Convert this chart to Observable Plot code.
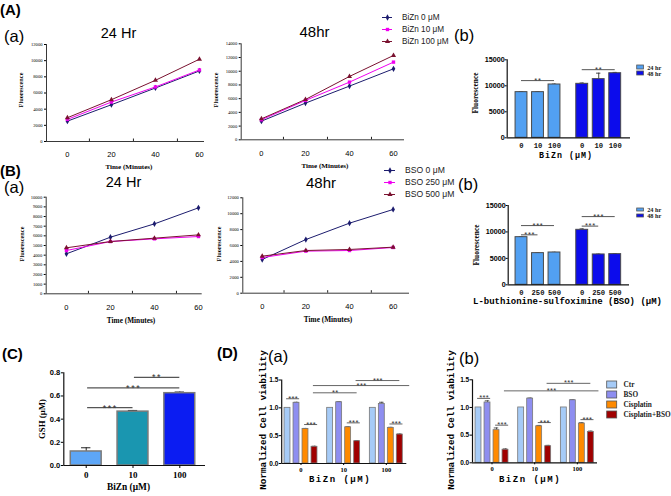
<!DOCTYPE html>
<html><head><meta charset="utf-8">
<script src="https://cdn.jsdelivr.net/npm/d3@7"></script>
<script src="https://cdn.jsdelivr.net/npm/@observablehq/plot@0.6"></script>
<style>
body{margin:0;background:#fff}
#fig{position:relative;width:671px;height:496px;overflow:hidden;background:#fff}
#fig svg{position:absolute;left:0;top:0}
</style></head><body><div id="fig"></div>
<script>
// ================= DATA =================
const timePoints = [0, 20, 40, 60];
const timeMinorTicks = [10, 30, 50];
const biznLineSeries = ["BiZn 0 μM", "BiZn 10 μM", "BiZn 100 μM"];
const bsoLineSeries = ["BSO 0 μM", "BSO 250 μM", "BSO 500 μM"];
const A24_bizn0 = [2520, 4550, 6620, 8730];
const A24_bizn10 = [2730, 4880, 6750, 8850];
const A24_bizn100 = [2940, 5170, 7570, 10180];
const A48_bizn0 = [2720, 5350, 7830, 10350];
const A48_bizn10 = [2920, 5740, 8410, 11330];
const A48_bizn100 = [3060, 5880, 9240, 12300];
const B24_bso0 = [4140, 5860, 7240, 8900];
const B24_bso250 = [4480, 5410, 5690, 5930];
const B24_bso500 = [4760, 5410, 5760, 6100];
const B48_bso0 = [4240, 6750, 8810, 10530];
const B48_bso250 = [4490, 5290, 5370, 5750];
const B48_bso500 = [4660, 5370, 5500, 5790];
const lineTicksA24 = [0, 2000, 4000, 6000, 8000, 10000, 12000];
const lineTicksA48 = [0, 2000, 4000, 6000, 8000, 10000, 12000, 14000];
const lineTicksB24 = [0, 1000, 2000, 3000, 4000, 5000, 6000, 7000, 8000, 9000, 10000];
const lineTicksB48 = [0, 2000, 4000, 6000, 8000, 10000, 12000];

const timeGroups = ["24 hr", "48 hr"];
const biznConc = ["0", "10", "100"];
const bsoConc = ["0", "250", "500"];
const fluorTicks = [0, 5000, 10000, 15000];
const Ab_24 = [8780, 8780, 10250], Ab_24_err = [60, 60, 80];
const Ab_48 = [10380, 11280, 12420], Ab_48_err = [150, 1150, 150];
const Bb_24 = [9010, 5990, 6110], Bb_24_err = [60, 40, 40];
const Bb_48 = [10400, 5740, 5800], Bb_48_err = [170, 60, 80];
const Ab_sig = [{g: 0, a: 0, b: 2, y: 11000, label: "**"}, {g: 1, a: 0, b: 2, y: 13100, label: "**"}];
const Bb_sig = [
  {g: 0, a: 0, b: 1, y: 9450, label: "***"}, {g: 0, a: 0, b: 2, y: 11200, label: "***"},
  {g: 1, a: 0, b: 1, y: 11100, label: "***"}, {g: 1, a: 0, b: 2, y: 12900, label: "***"}];

const gsh = [0.121, 0.465, 0.624], gsh_err = [0.032, 0.01, 0.01];
const gshTicks = [0, 0.2, 0.4, 0.6, 0.8];
const gsh_sig = [{a: 0, b: 1, y: 0.50, label: "***"}, {a: 0, b: 2, y: 0.67, label: "***"}, {a: 1, b: 2, y: 0.76, label: "**"}];

const dGroups = ["0", "10", "100"];
const dSeries = ["Ctr", "BSO", "Cisplatin", "Cisplatin+BSO"];
const viabTicks = [0, 0.5, 1.0, 1.5];
const Da_ctr = [1, 1, 1], Da_ctr_err = [0, 0, 0];
const Da_bso = [1.09, 1.10, 1.07], Da_bso_err = [0.01, 0.01, 0.03];
const Da_cis = [0.62, 0.65, 0.64], Da_cis_err = [0.01, 0.01, 0.01];
const Da_cisbso = [0.30, 0.40, 0.52], Da_cisbso_err = [0.01, 0.01, 0.01];
const Db_ctr = [1, 1, 1], Db_ctr_err = [0, 0, 0];
const Db_bso = [1.09, 1.16, 1.13], Db_bso_err = [0.03, 0.01, 0.01];
const Db_cis = [0.59, 0.66, 0.71], Db_cis_err = [0.04, 0.015, 0.015];
const Db_cisbso = [0.236, 0.30, 0.558], Db_cisbso_err = [0.015, 0.015, 0.015];
const Da_sigShort = [{g: 0, a: 0, b: 1, y: 1.163, label: "***"}, {g: 0, a: 2, b: 3, y: 0.70, label: "***"},
  {g: 1, a: 2, b: 3, y: 0.73, label: "***"}, {g: 2, a: 2, b: 3, y: 0.71, label: "***"}];
const Da_sigLong = [{g1: 0, s1: 3, g2: 1, s2: 3, y: 1.27, label: "**", ext: 0},
  {g1: 0, s1: 3, g2: 2, s2: 3, y: 1.40, label: "***", ext: 1.1},
  {g1: 1, s1: 3, g2: 2, s2: 3, y: 1.49, label: "***", ext: 0}];
const Db_sigShort = [{g: 0, a: 0, b: 1, y: 1.164, label: "***"}, {g: 0, a: 2, b: 3, y: 0.68, label: "***"},
  {g: 1, a: 2, b: 3, y: 0.727, label: "***"}, {g: 2, a: 2, b: 3, y: 0.78, label: "***"}];
const Db_sigLong = [{g1: 0, s1: 3, g2: 2, s2: 3, y: 1.30, label: "***", ext: 0.9},
  {g1: 1, s1: 3, g2: 2, s2: 3, y: 1.436, label: "***", ext: 0}];

// ================= STYLE / LAYOUT =================
const W = 671, H = 496;
const SANS = "'Liberation Sans', Arial, sans-serif";
const SERIF = "'Liberation Serif', 'Times New Roman', serif";
const MONO = "'Liberation Mono', 'DejaVu Sans Mono', monospace";
const LINE_COLORS = ["#1C1C6E", "#F000F0", "#7A1230"];
const LINE_SYMBOLS = ["diamond", "square", "triangle"];
const TIME_COLORS = ["#52A0F2", "#0C0CEC"];
const GSH_COLORS = ["#5DA6F7", "#1A96B0", "#0B1CF2"];
const D_COLORS = ["#A6CBF7", "#8E8EF0", "#FF8A00", "#A00000"];
const AB_GROUP_STEP = 3.68, D_GROUP_STEP = 4.74;

const LAY = {
  A24: {left: 46, right: 204, top: 44, bottom: 141, xmin: -9.5, xmax: 62.3},
  A48: {left: 240.7, right: 404, top: 43.3, bottom: 139.3, xmin: -9.2, xmax: 65},
  B24: {left: 45.7, right: 201.7, top: 196.7, bottom: 293.3, xmin: -9.2, xmax: 61.7},
  B48: {left: 242.3, right: 409, top: 197.3, bottom: 292.7, xmin: -8.9, xmax: 67.5},
  Ab: {left: 506.7, right: 630, top: 59.3, bottom: 137.3, xmin: -0.867, xmax: 6.606},
  Bb: {left: 507.7, right: 629, top: 205, bottom: 284.3, xmin: -0.806, xmax: 6.546},
  C: {left: 63.3, right: 205, top: 372.3, bottom: 465, xmin: -0.479, xmax: 2.549},
  Da: {left: 281.2, right: 406.3, top: 379.5, bottom: 463, xmin: -0.644, xmax: 13.256},
  Db: {left: 472, right: 597, top: 379.3, bottom: 462.3, xmin: -0.667, xmax: 13.22}
};

const fig = document.getElementById("fig");
function add(f, opts) {
  const svg = Plot.plot(Object.assign({
    width: W, height: H,
    marginLeft: f.left, marginRight: W - f.right, marginTop: f.top, marginBottom: H - f.bottom,
    style: {background: "transparent", overflow: "visible"}
  }, opts));
  svg.style.position = "absolute"; svg.style.left = "0px"; svg.style.top = "0px";
  d3.select(svg).selectAll("text").filter(function () { return /^\*+$/.test(this.textContent); })
    .attr("letter-spacing", opts.starSpacing || 0.5);
  fig.appendChild(svg);
  return svg;
}
function bandFrame(left, right, c0, step, n, bw) {
  const p = 1 - bw / step, start = c0 - step * (1 + p) / 2;
  return {left, right, top: start, bottom: start + step * (n + p), pad: p};
}

// ================= LINE CHARTS =================
function lineChart(f, names, series, ticks) {
  const rows = [];
  names.forEach((n, k) => timePoints.forEach((t, i) => rows.push({series: n, t, v: series[k][i]})));
  const yMax = ticks[ticks.length - 1];
  add(f, {
    x: {domain: [f.xmin, f.xmax], axis: null},
    y: {domain: [0, yMax], axis: null},
    color: {domain: names, range: LINE_COLORS},
    symbol: {domain: names, range: LINE_SYMBOLS},
    marks: [
      Plot.ruleY([0], {stroke: "#222", strokeWidth: 0.9}),
      Plot.ruleX([f.xmin], {stroke: "#222", strokeWidth: 0.9}),
      Plot.ruleX(timeMinorTicks, {y1: 0, y2: 0, insetTop: -2.5, stroke: "#222"}),
      Plot.axisY(ticks, {anchor: "left", tickSize: 2, tickPadding: 2, fontSize: 4.6, fontFamily: SERIF, tickFormat: d => String(d), label: null}),
      Plot.axisX(timePoints, {anchor: "bottom", tickSize: 0, tickPadding: 10.5, fontSize: 7.5, fontFamily: SANS, tickFormat: d => String(d), label: null}),
      Plot.line(rows, {x: "t", y: "v", z: "series", stroke: "series", strokeWidth: 1}),
      Plot.dot(rows, {x: "t", y: "v", fill: "series", symbol: "series", r: 1.9})
    ]
  });
}
function lineLegend(f, names, fontSize) {
  const rows = names.map(n => ({n}));
  add(f, {
    x: {domain: [0, 1], axis: null},
    y: {type: "point", domain: names, padding: 0, axis: null},
    color: {domain: names, range: LINE_COLORS},
    symbol: {domain: names, range: LINE_SYMBOLS},
    marks: [
      Plot.ruleY(rows, {y: "n", x1: 0, x2: 1, stroke: "n", strokeWidth: 1}),
      Plot.dot(rows, {x: 0.5, y: "n", fill: "n", symbol: "n", r: 1.9}),
      Plot.text(rows, {x: 1, y: "n", text: "n", dx: 9.5, textAnchor: "start", fontSize, fontFamily: SANS, fill: "#222"})
    ]
  });
}
lineChart(LAY.A24, biznLineSeries, [A24_bizn0, A24_bizn10, A24_bizn100], lineTicksA24);
lineChart(LAY.A48, biznLineSeries, [A48_bizn0, A48_bizn10, A48_bizn100], lineTicksA48);
lineChart(LAY.B24, bsoLineSeries, [B24_bso0, B24_bso250, B24_bso500], lineTicksB24);
lineChart(LAY.B48, bsoLineSeries, [B48_bso0, B48_bso250, B48_bso500], lineTicksB48);
lineLegend({left: 382, right: 392, top: 15.7, bottom: 41.7}, biznLineSeries, 8.2);
lineLegend({left: 384, right: 395, top: 168.8, bottom: 194.5}, bsoLineSeries, 8.6);

// ================= FLUORESCENCE BAR CHARTS =================
function timeBarChart(f, concs, vals, errs, sigs) {
  const rows = [];
  timeGroups.forEach((s, g) => concs.forEach((c, i) =>
    rows.push({series: s, label: c, pos: g * AB_GROUP_STEP + i, v: vals[g][i], e: errs[g][i]})));
  const sigRows = sigs.map(s => ({x1: s.g * AB_GROUP_STEP + s.a, x2: s.g * AB_GROUP_STEP + s.b, y: s.y, label: s.label}));
  add(f, {
    x: {domain: [f.xmin, f.xmax], axis: null},
    y: {domain: [0, fluorTicks[fluorTicks.length - 1]], axis: null},
    color: {domain: timeGroups, range: TIME_COLORS},
    starSpacing: 0.8,
    marks: [
      Plot.ruleX(rows, {x: "pos", y1: "v", y2: d => d.v + d.e, stroke: "#333", strokeWidth: 0.9}),
      Plot.ruleY(rows, {y: d => d.v + d.e, x1: d => d.pos - 0.13, x2: d => d.pos + 0.13, stroke: "#333", strokeWidth: 0.9}),
      Plot.rect(rows, {x1: d => d.pos - 0.36, x2: d => d.pos + 0.36, y1: 0, y2: "v", fill: "series", stroke: "#4a4a4a", strokeWidth: 1}),
      Plot.ruleY([0], {stroke: "#111", strokeWidth: 1.2}),
      Plot.ruleX([f.xmin], {stroke: "#111", strokeWidth: 1.2}),
      Plot.axisY(fluorTicks, {anchor: "left", tickSize: 2, tickPadding: 0.5, fontSize: 7.2, fontWeight: "bold", fontFamily: SANS, tickFormat: d => String(d), label: null}),
      Plot.text(rows, {x: "pos", y: 0, text: "label", dy: 7.6, fontFamily: MONO, fontWeight: "bold", fontSize: 7.2, fill: "#111"}),
      Plot.ruleY(sigRows, {y: "y", x1: "x1", x2: "x2", stroke: "#555", strokeWidth: 1}),
      Plot.text(sigRows, {x: d => (d.x1 + d.x2) / 2, y: "y", text: "label", lineAnchor: "bottom", dy: 2.2, fontSize: 7.5, fontFamily: SANS, fill: "#333"})
    ]
  });
}
function boxLegend(f, names, colors, fontSize, dx) {
  const rows = names.map(n => ({n}));
  add(f, {
    x: {domain: [0, 1], axis: null},
    y: {type: "band", domain: names, padding: f.pad, axis: null},
    color: {domain: names, range: colors},
    marks: [
      Plot.barX(rows, {x1: 0, x2: 1, y: "n", fill: "n", stroke: "#555", strokeWidth: 0.8}),
      Plot.text(rows, {x: 1, y: "n", text: "n", dx, textAnchor: "start", fontSize, fontFamily: SERIF, fontWeight: "bold", fill: "#222"})
    ]
  });
}
timeBarChart(LAY.Ab, biznConc, [Ab_24, Ab_48], [Ab_24_err, Ab_48_err], Ab_sig);
timeBarChart(LAY.Bb, bsoConc, [Bb_24, Bb_48], [Bb_24_err, Bb_48_err], Bb_sig);
boxLegend(bandFrame(636.7, 643.4, 66, 6.7, 2, 4), timeGroups, TIME_COLORS, 6.3, 3.3);
boxLegend(bandFrame(636.7, 643.4, 209.3, 6.9, 2, 4), timeGroups, TIME_COLORS, 6.3, 3.3);

// ================= GSH (C) =================
(function () {
  const f = LAY.C;
  const rows = biznConc.map((c, i) => ({label: c, pos: i, v: gsh[i], e: gsh_err[i]}));
  const sigRows = gsh_sig.map(s => ({x1: s.a + 0.03, x2: s.b, y: s.y, label: s.label}));
  add(f, {
    x: {domain: [f.xmin, f.xmax], axis: null},
    y: {domain: [0, gshTicks[gshTicks.length - 1]], axis: null},
    color: {domain: biznConc, range: GSH_COLORS},
    starSpacing: 1.6,
    marks: [
      Plot.ruleX(rows, {x: "pos", y1: "v", y2: d => d.v + d.e, stroke: "#222", strokeWidth: 1}),
      Plot.ruleY(rows, {y: d => d.v + d.e, x1: d => d.pos - 0.1, x2: d => d.pos + 0.1, stroke: "#222", strokeWidth: 1}),
      Plot.rect(rows, {x1: d => d.pos - 0.33, x2: d => d.pos + 0.33, y1: 0, y2: "v", fill: "label", stroke: "#7a7a7a", strokeWidth: 1.5}),
      Plot.ruleY([0], {stroke: "#111", strokeWidth: 1.2}),
      Plot.ruleX([f.xmin], {stroke: "#111", strokeWidth: 1.2}),
      Plot.axisY(gshTicks, {anchor: "left", tickSize: 2.5, tickPadding: 1, fontSize: 7.5, fontWeight: "bold", fontFamily: SANS, tickFormat: d => d.toFixed(1), label: null}),
      Plot.axisX([0, 1, 2], {anchor: "bottom", tickSize: 3, tickPadding: 3, fontSize: 9, fontWeight: "bold", fontFamily: SERIF, tickFormat: i => biznConc[i], label: null}),
      Plot.ruleY(sigRows, {y: "y", x1: "x1", x2: "x2", stroke: "#555", strokeWidth: 1.2}),
      Plot.text(sigRows, {x: d => (d.x1 + d.x2) / 2, y: "y", text: "label", lineAnchor: "bottom", dy: 3, fontSize: 9, fontFamily: SANS, fill: "#333"})
    ]
  });
})();

// ================= VIABILITY (D) =================
function viabilityChart(f, vals, errs, shortSigs, longSigs) {
  const pos = (g, i) => g * D_GROUP_STEP + i;
  const rows = [];
  dGroups.forEach((gl, g) => dSeries.forEach((s, i) =>
    rows.push({series: s, pos: pos(g, i), v: vals[i][g], e: errs[i][g]})));
  const centers = dGroups.map((gl, g) => pos(g, 1.5));
  const labelAt = new Map(centers.map((c, g) => [c, dGroups[g]]));
  const sigRows = shortSigs.map(s => ({x1: pos(s.g, s.a) - 0.1, x2: pos(s.g, s.b) + 0.35, y: s.y, label: s.label}))
    .concat(longSigs.map(s => ({x1: pos(s.g1, s.s1) - 0.12, x2: pos(s.g2, s.s2) + s.ext, y: s.y, label: s.label})));
  const eRows = rows.filter(d => d.e > 0);
  add(f, {
    x: {domain: [f.xmin, f.xmax], axis: null},
    y: {domain: [0, viabTicks[viabTicks.length - 1]], axis: null},
    color: {domain: dSeries, range: D_COLORS},
    starSpacing: 0.4,
    marks: [
      Plot.ruleX(eRows, {x: "pos", y1: "v", y2: d => d.v + d.e, stroke: "#333", strokeWidth: 0.8}),
      Plot.ruleY(eRows, {y: d => d.v + d.e, x1: d => d.pos - 0.25, x2: d => d.pos + 0.25, stroke: "#333", strokeWidth: 0.8}),
      Plot.rect(rows, {x1: d => d.pos - 0.33, x2: d => d.pos + 0.33, y1: 0, y2: "v", fill: "series", stroke: "#777", strokeWidth: 0.8}),
      Plot.ruleY([0], {stroke: "#111", strokeWidth: 1.2}),
      Plot.ruleX([f.xmin], {stroke: "#111", strokeWidth: 1.2}),
      Plot.axisY(viabTicks, {anchor: "left", tickSize: 2.5, tickPadding: 0.8, fontSize: 6.5, fontWeight: "bold", fontFamily: SANS, tickFormat: d => d.toFixed(1), label: null}),
      Plot.axisX(centers, {anchor: "bottom", tickSize: 2, tickPadding: 1.8, fontSize: 6.5, fontWeight: "bold", fontFamily: SERIF, tickFormat: c => labelAt.get(c), label: null}),
      Plot.ruleY(sigRows, {y: "y", x1: "x1", x2: "x2", stroke: "#666", strokeWidth: 1}),
      Plot.text(sigRows, {x: d => (d.x1 + d.x2) / 2, y: "y", text: "label", lineAnchor: "bottom", dy: 2, fontSize: 7.5, fontFamily: SANS, fill: "#333"})
    ]
  });
}
viabilityChart(LAY.Da, [Da_ctr, Da_bso, Da_cis, Da_cisbso], [Da_ctr_err, Da_bso_err, Da_cis_err, Da_cisbso_err], Da_sigShort, Da_sigLong);
viabilityChart(LAY.Db, [Db_ctr, Db_bso, Db_cis, Db_cisbso], [Db_ctr_err, Db_bso_err, Db_cis_err, Db_cisbso_err], Db_sigShort, Db_sigLong);
boxLegend(bandFrame(606.7, 616.7, 383.5, 10.2, 4, 6.7), dSeries, D_COLORS, 7.3, 6.3);

// ================= TEXT LABELS =================
const LABELS = [
  {t: "(A)", x: 0, y: 15, s: 15, w: "bold"},
  {t: "(B)", x: 0, y: 176, s: 15, w: "bold"},
  {t: "(C)", x: 2, y: 359, s: 15, w: "bold"},
  {t: "(D)", x: 217, y: 358, s: 15, w: "bold"},
  {t: "(a)", x: 4, y: 41.5, s: 16.5},
  {t: "(b)", x: 454, y: 41, s: 16.5},
  {t: "(a)", x: 4, y: 193, s: 16.5},
  {t: "(b)", x: 458, y: 190, s: 16.5},
  {t: "(a)", x: 268, y: 362, s: 16.5},
  {t: "(b)", x: 459, y: 364, s: 16.5},
  {t: "24 Hr", x: 118.5, y: 38, s: 14.5, a: "middle"},
  {t: "48hr", x: 314.5, y: 36.7, s: 15, a: "middle"},
  {t: "24 Hr", x: 123.5, y: 186.5, s: 14.5, a: "middle"},
  {t: "48hr", x: 321, y: 188, s: 15, a: "middle"},
  {t: "Time (Minutes)", x: 129, y: 166.7, s: 7.1, w: "bold", f: SERIF, a: "middle", c: 1},
  {t: "Time (Minutes)", x: 325, y: 165.7, s: 7.1, w: "bold", f: SERIF, a: "middle", c: 1},
  {t: "Time (Minutes)", x: 131, y: 320, s: 7.3, w: "bold", f: SERIF, a: "middle", c: 1},
  {t: "Time (Minutes)", x: 328, y: 319, s: 7.3, w: "bold", f: SERIF, a: "middle", c: 1},
  {t: "Fluorescence", x: 20.5, y: 90, s: 6.3, w: "bold", f: SERIF, a: "middle", r: -90},
  {t: "Fluorescence", x: 215.5, y: 90, s: 6.3, w: "bold", f: SERIF, a: "middle", r: -90},
  {t: "Fluorescence", x: 21.5, y: 244, s: 6.3, w: "bold", f: SERIF, a: "middle", r: -90},
  {t: "Fluorescence", x: 218, y: 244, s: 6.3, w: "bold", f: SERIF, a: "middle", r: -90},
  {t: "Fluorescence", x: 475.5, y: 93, s: 7.4, w: "bold", f: SERIF, a: "middle", r: -90},
  {t: "Fluorescence", x: 476, y: 245, s: 7.4, w: "bold", f: SERIF, a: "middle", r: -90},
  {t: "BiZn (μM)", x: 566, y: 155, s: 8.3, w: "bold", f: MONO, a: "middle", c: 1, ls: 1},
  {t: "L-buthionine-sulfoximine (BSO) (μM)", x: 567.5, y: 302, s: 9, w: "bold", f: MONO, a: "middle", c: 1},
  {t: "GSH (μM)", x: 41.7, y: 419, s: 8.8, w: "bold", f: SERIF, a: "middle", r: -90},
  {t: "BiZn (μM)", x: 128.5, y: 487, s: 9.4, w: "bold", f: SERIF, a: "middle", c: 1},
  {t: "Normalized Cell viability", x: 263, y: 420, s: 9.3, w: "bold", f: MONO, a: "middle", r: -90},
  {t: "Normalized Cell viability", x: 451.5, y: 420, s: 9.3, w: "bold", f: MONO, a: "middle", r: -90},
  {t: "BiZn (μM)", x: 340, y: 480, s: 9, w: "bold", f: MONO, a: "middle", c: 1, ls: 1.5},
  {t: "BiZn (μM)", x: 530, y: 479.5, s: 9, w: "bold", f: MONO, a: "middle", c: 1, ls: 1.5}
];
const ov = d3.select(fig).append("svg").attr("width", W).attr("height", H)
  .style("position", "absolute").style("left", "0px").style("top", "0px");
for (const L of LABELS) {
  const t = ov.append("text").text(L.t)
    .attr("font-family", L.f || SANS).attr("font-size", L.s)
    .attr("font-weight", L.w || "normal").attr("text-anchor", L.a || "start").attr("fill", "#000");
  if (L.r) t.attr("transform", `translate(${L.x},${L.y}) rotate(${L.r})`).attr("dominant-baseline", "central");
  else t.attr("x", L.x).attr("y", L.y);
  if (L.c) t.attr("dominant-baseline", "central");
  if (L.ls) t.attr("letter-spacing", L.ls);
}
</script></body></html>
